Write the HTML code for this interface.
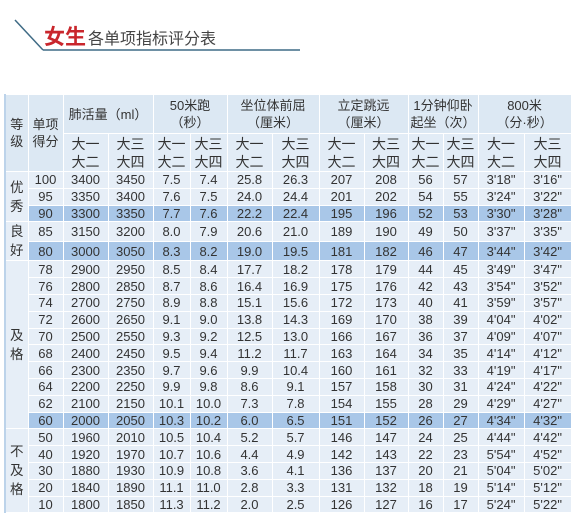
<!DOCTYPE html>
<html><head><meta charset="utf-8">
<style>
html,body{margin:0;padding:0;background:#fff;width:579px;height:515px;overflow:hidden;position:relative;font-family:"Liberation Sans","Noto Sans CJK SC",sans-serif;}
#title{position:absolute;left:0;top:0;width:579px;height:60px;}
table{position:absolute;left:4px;top:94px;width:566px;border-collapse:collapse;table-layout:fixed;color:#333;}
td{border:1px solid #fff;background:#e6eef7;text-align:center;font-size:13px;padding:0;line-height:15px;height:15.8px;white-space:nowrap;}
tr.h1 td{height:38px;background:#dce8f3;font-size:13px;line-height:17px;}
tr.h2 td{height:37px;background:#e2ecf6;font-size:14px;line-height:18px;}
tr.hl td{background:#a9c7e8;}
td.g{background:#e6eef7 !important;font-size:13.5px;line-height:19px;}
td.first{border-left:2px solid #bcd3ea;}
</style></head><body>
<svg id="title" width="579" height="60">
<line x1="15" y1="20" x2="43" y2="50" stroke="#3f6b85" stroke-width="1.5"/>
<line x1="43" y1="50" x2="300" y2="50" stroke="#3f6b85" stroke-width="1.5"/>
<text x="44" y="44" font-family="Liberation Sans, Noto Sans CJK SC, sans-serif" font-size="21" font-weight="bold" fill="#c9262c">女生</text>
<text x="88" y="44" font-family="Liberation Sans, Noto Sans CJK SC, sans-serif" font-size="16" fill="#444">各单项指标评分表</text>
</svg>
<table>
<colgroup><col style="width:23px"><col style="width:35px"><col style="width:45px"><col style="width:45px"><col style="width:37px"><col style="width:37px"><col style="width:45px"><col style="width:47px"><col style="width:45px"><col style="width:44px"><col style="width:35px"><col style="width:35px"><col style="width:46px"><col style="width:47px"></colgroup>
<tr class="h1">
<td rowspan="2" class="first">等<br>级</td><td rowspan="2">单项<br>得分</td>
<td colspan="2">肺活量（ml）</td><td colspan="2">50米跑<br>（秒）</td><td colspan="2">坐位体前屈<br>（厘米）</td><td colspan="2">立定跳远<br>（厘米）</td><td colspan="2">1分钟仰卧<br>起坐（次）</td><td colspan="2">800米<br>（分·秒）</td></tr>
<tr class="h2">
<td>大一<br>大二</td><td>大三<br>大四</td><td>大一<br>大二</td><td>大三<br>大四</td><td>大一<br>大二</td><td>大三<br>大四</td><td>大一<br>大二</td><td>大三<br>大四</td><td>大一<br>大二</td><td>大三<br>大四</td><td>大一<br>大二</td><td>大三<br>大四</td></tr>
<tbody id="body"></tbody>
</table>
<script>
const rows=[
["100","3400","3450","7.5","7.4","25.8","26.3","207","208","56","57","3'18\"","3'16\""],
["95","3350","3400","7.6","7.5","24.0","24.4","201","202","54","55","3'24\"","3'22\""],
["90","3300","3350","7.7","7.6","22.2","22.4","195","196","52","53","3'30\"","3'28\""],
["85","3150","3200","8.0","7.9","20.6","21.0","189","190","49","50","3'37\"","3'35\""],
["80","3000","3050","8.3","8.2","19.0","19.5","181","182","46","47","3'44\"","3'42\""],
["78","2900","2950","8.5","8.4","17.7","18.2","178","179","44","45","3'49\"","3'47\""],
["76","2800","2850","8.7","8.6","16.4","16.9","175","176","42","43","3'54\"","3'52\""],
["74","2700","2750","8.9","8.8","15.1","15.6","172","173","40","41","3'59\"","3'57\""],
["72","2600","2650","9.1","9.0","13.8","14.3","169","170","38","39","4'04\"","4'02\""],
["70","2500","2550","9.3","9.2","12.5","13.0","166","167","36","37","4'09\"","4'07\""],
["68","2400","2450","9.5","9.4","11.2","11.7","163","164","34","35","4'14\"","4'12\""],
["66","2300","2350","9.7","9.6","9.9","10.4","160","161","32","33","4'19\"","4'17\""],
["64","2200","2250","9.9","9.8","8.6","9.1","157","158","30","31","4'24\"","4'22\""],
["62","2100","2150","10.1","10.0","7.3","7.8","154","155","28","29","4'29\"","4'27\""],
["60","2000","2050","10.3","10.2","6.0","6.5","151","152","26","27","4'34\"","4'32\""],
["50","1960","2010","10.5","10.4","5.2","5.7","146","147","24","25","4'44\"","4'42\""],
["40","1920","1970","10.7","10.6","4.4","4.9","142","143","22","23","5'54\"","4'52\""],
["30","1880","1930","10.9","10.8","3.6","4.1","136","137","20","21","5'04\"","5'02\""],
["20","1840","1890","11.1","11.0","2.8","3.3","131","132","18","19","5'14\"","5'12\""],
["10","1800","1850","11.3","11.2","2.0","2.5","126","127","16","17","5'24\"","5'22\""]];
const grades=[[0,3,"优<br>秀"],[3,2,"良<br>好"],[5,10,"及<br>格"],[15,5,"不<br>及<br>格"]];
const highlight=["90","80","60"];
const body=document.getElementById('body');
rows.forEach((r,i)=>{
 const tr=document.createElement('tr');
 
 
 if(highlight.includes(r[0]))tr.className='hl';
 const g=grades.find(x=>x[0]===i);
 if(g){const td=document.createElement('td');td.rowSpan=g[1];td.className='g first';td.innerHTML=g[2];
 
 
 tr.appendChild(td);}
 r.forEach(v=>{const td=document.createElement('td');td.textContent=v;
 
 
 tr.appendChild(td);});
 body.appendChild(tr);
});
</script>
</body></html>
